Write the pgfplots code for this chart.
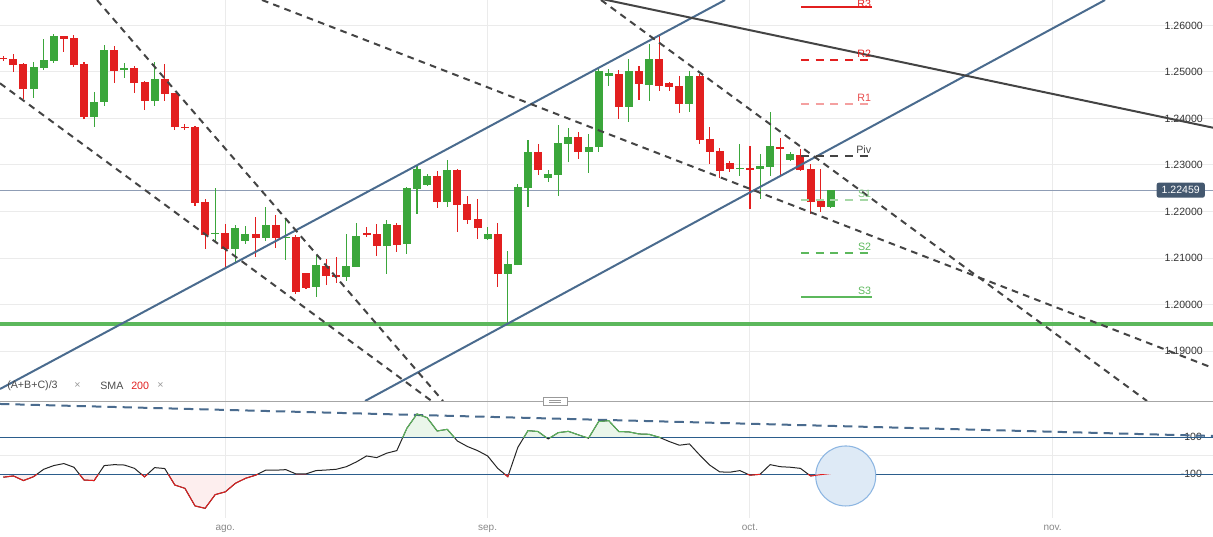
\documentclass[border=0pt]{standalone}
\usepackage{fontspec}
\setmainfont{Liberation Sans}
\usepackage{pgfplots}
\usepackage{pgfplotstable}
\pgfplotsset{compat=1.18}

\definecolor{cRed}{HTML}{E21F1F}
\definecolor{cGreen}{HTML}{3BA63B}
\definecolor{cBlue}{HTML}{4A6B8E}
\definecolor{cDark}{HTML}{444444}
\definecolor{cGrid}{HTML}{EBEBEB}
\definecolor{cPrice}{HTML}{8F9DB5}
\definecolor{cBox}{HTML}{44586F}
\definecolor{cLevel}{HTML}{5CB85C}
\definecolor{cLine}{HTML}{2B5D8C}
\definecolor{cR1}{HTML}{F4A0A0}
\definecolor{cS1}{HTML}{A6D8A6}
\definecolor{cGreenFill}{HTML}{EAF6EA}
\definecolor{cRedFill}{HTML}{FDEEEE}
\definecolor{cCircle}{HTML}{DEEAF6}
\definecolor{cCircleB}{HTML}{8DB6E2}
\definecolor{cTxt}{HTML}{333333}
\definecolor{cAxTxt}{HTML}{888888}

% candles: k open high low close
\pgfplotstableread{
k o h l c
0 1.25308 1.25344 1.25243 1.25272
1 1.25279 1.25387 1.25007 1.25150
2 1.25172 1.25186 1.24412 1.24634
6 1.25774 1.25774 1.25437 1.25717
7 1.25731 1.25788 1.25114 1.25150
8 1.25172 1.25215 1.23982 1.24032
11 1.25473 1.25559 1.24770 1.25021
13 1.25086 1.25129 1.24555 1.24763
14 1.24785 1.24806 1.24190 1.24383
16 1.24849 1.25172 1.24383 1.24527
17 1.24548 1.24548 1.23760 1.23817
18 1.23824 1.23874 1.23753 1.23796
19 1.23817 1.23839 1.22125 1.22190
20 1.22204 1.22262 1.21201 1.21495
22 1.21538 1.21731 1.20814 1.21201
25 1.21516 1.21882 1.21029 1.21430
27 1.21710 1.21925 1.21222 1.21437
29 1.21452 1.21495 1.20233 1.20276
30 1.20677 1.20677 1.20341 1.20355
32 1.20828 1.20979 1.20419 1.20620
33 1.20634 1.21022 1.20470 1.20599
36 1.21538 1.21667 1.21452 1.21495
37 1.21516 1.21731 1.21050 1.21265
39 1.21710 1.21760 1.21136 1.21287
43 1.22763 1.22871 1.22082 1.22211
45 1.22892 1.22914 1.21566 1.22147
46 1.22161 1.22333 1.21738 1.21824
47 1.21839 1.22269 1.21416 1.21652
49 1.21516 1.21753 1.20384 1.20663
53 1.23279 1.23451 1.22792 1.22900
57 1.23602 1.23710 1.23136 1.23287
61 1.24957 1.25043 1.23996 1.24254
63 1.25021 1.25129 1.24405 1.24749
65 1.25279 1.25795 1.24598 1.24706
66 1.24763 1.24785 1.24598 1.24684
67 1.24699 1.24914 1.24125 1.24319
69 1.24914 1.24957 1.23459 1.23545
70 1.23559 1.23817 1.23029 1.23287
71 1.23301 1.23365 1.22728 1.22878
72 1.23043 1.23086 1.22857 1.22921
74 1.22935 1.23408 1.22061 1.22900
77 1.23387 1.23580 1.22792 1.23351
79 1.23215 1.23344 1.22878 1.22892
80 1.22914 1.23021 1.21953 1.22211
81 1.22233 1.22914 1.21996 1.22104
}\downbars

\pgfplotstableread{
k o h l c
3 1.24634 1.25215 1.24448 1.25107
4 1.25086 1.25709 1.25043 1.25258
5 1.25236 1.25817 1.25200 1.25774
9 1.24032 1.24570 1.23824 1.24355
10 1.24355 1.25580 1.24269 1.25473
12 1.25050 1.25193 1.24878 1.25086
15 1.24383 1.25215 1.24276 1.24849
21 1.21516 1.22505 1.21351 1.21545
23 1.21201 1.21710 1.20921 1.21645
24 1.21373 1.21688 1.21308 1.21516
26 1.21437 1.22097 1.21373 1.21710
28 1.21430 1.21839 1.20964 1.21459
31 1.20384 1.21065 1.20169 1.20849
34 1.20599 1.21516 1.20513 1.20828
35 1.20814 1.21753 1.20814 1.21473
38 1.21265 1.21817 1.20663 1.21731
40 1.21308 1.22527 1.21093 1.22505
41 1.22491 1.22986 1.21953 1.22914
42 1.22577 1.22814 1.22555 1.22763
44 1.22211 1.23107 1.22104 1.22892
48 1.21409 1.21667 1.21394 1.21516
50 1.20663 1.21151 1.19595 1.20871
51 1.20849 1.22591 1.20849 1.22527
52 1.22512 1.23537 1.22104 1.23279
54 1.22728 1.22892 1.22634 1.22806
55 1.22792 1.23860 1.22340 1.23473
56 1.23459 1.23796 1.23064 1.23602
58 1.23287 1.23667 1.22835 1.23387
59 1.23394 1.25086 1.23287 1.25021
60 1.24921 1.25064 1.24706 1.24978
62 1.24254 1.25279 1.23932 1.25021
64 1.24727 1.25602 1.24383 1.25279
68 1.24319 1.25021 1.24147 1.24914
73 1.22914 1.23451 1.22771 1.22935
75 1.22921 1.23236 1.22276 1.22978
76 1.22964 1.24140 1.22771 1.23408
78 1.23115 1.23279 1.23093 1.23236
82 1.22104 1.22462 1.22082 1.22459
}\upbars

% oscillator, one value per candle
\pgfplotstableread{
k v
0 -116
1 -109
2 -134
3 -113
4 -73
5 -53
6 -42
7 -62
8 -131
9 -134
10 -53
11 -48
12 -50
13 -68
14 -114
15 -64
16 -69
17 -158
18 -176
19 -271
20 -284
21 -210
22 -195
23 -149
24 -122
25 -105
26 -78
27 -78
28 -75
29 -98
30 -98
31 -80
32 -77
33 -73
34 -59
35 -33
36 -1
37 -10
38 14
39 28
40 149
41 226
42 206
43 134
44 143
45 80
46 50
47 28
48 -1
49 -68
50 -113
51 46
52 136
53 131
54 91
55 125
56 132
57 113
58 95
59 185
60 190
61 131
62 129
63 118
64 116
65 100
66 77
67 57
68 64
69 5
70 -50
71 -87
72 -89
73 -80
74 -105
75 -100
76 -48
77 -59
78 -62
79 -68
80 -109
81 -102
82 -96
}\osc

\pgfplotsset{
  wick/.style={draw=none, mark=none, error bars/.cd, y dir=plus, y explicit,
    error mark=none, error bar style={draw=#1, line width=0.8pt}},
  body/.style={draw=none, mark=none, error bars/.cd, y dir=plus, y explicit,
    error mark=none, error bar style={draw=#1, line width=6pt}},
  trend/.style={cDark, line width=1.5pt, dash pattern=on 5pt off 4pt},
  lvl/.style={line width=1.5pt, #1},
  % overlay axes that only show the part of the oscillator beyond +-100
  band/.style={scale only axis, width=909.75pt, xmin=-0.327, xmax=119.89, hide axis},
  bandup/.style={band, at={(0pt,-300.75pt)}, anchor=north west,
    height=27.195pt, ymin=100, ymax=296},
  banddown/.style={band, at={(0pt,-388.25pt)}, anchor=south west,
    height=32.55pt, ymin=-334.6, ymax=-100},
}

\begin{document}
\begin{tikzpicture}
\useasboundingbox (0,0) rectangle (909.75pt,-402pt);

\begin{axis}[
  at={(0pt,0pt)}, anchor=north west,
  scale only axis, width=909.75pt, height=300.75pt,
  xmin=-0.327, xmax=119.89, ymin=1.17925, ymax=1.26548,
  axis line style={draw=none}, tick style={draw=none},
  xtick={22,48,74,104}, xticklabels={,,,},
  ytick={1.19,1.20,1.21,1.22,1.23,1.24,1.25,1.26},
  grid=major, major grid style={draw=cGrid, line width=0.75pt},
  yticklabel pos=right,
  yticklabel style={anchor=east, xshift=-7.5pt, inner sep=0pt,
    font=\fontsize{7.9}{9}\selectfont, text=cTxt,
    /pgf/number format/fixed, /pgf/number format/fixed zerofill,
    /pgf/number format/precision=5, /pgf/number format/assume math mode=true},
]
\addplot[cPrice, line width=0.75pt] coordinates {(-0.327,1.22459) (119.89,1.22459)};
\addplot[cLevel, line width=2.4pt] coordinates {(-0.327,1.1958) (119.89,1.1958)};

% candles
\addplot[wick=cRed] table[x=k, y=l, y error expr=\thisrow{h}-\thisrow{l}] {\downbars};
\addplot[body=cRed] table[x=k, y=c, y error expr=\thisrow{o}-\thisrow{c}] {\downbars};
\addplot[wick=cGreen] table[x=k, y=l, y error expr=\thisrow{h}-\thisrow{l}] {\upbars};
\addplot[body=cGreen] table[x=k, y=o, y error expr=\thisrow{c}-\thisrow{o}] {\upbars};

% trend lines and channel
\addplot[cBlue, line width=1.5pt] coordinates {(-0.327,1.18183) (71.53,1.26548)};
\addplot[cBlue, line width=1.5pt] coordinates {(35.85,1.17925) (109.19,1.26548)};
\addplot[cDark, line width=1.5pt] coordinates {(59.14,1.26578) (119.89,1.23802)};
\addplot[trend] coordinates {(9.29,1.26548) (43.58,1.17925)};
\addplot[trend] coordinates {(-0.327,1.24757) (42.45,1.17925)};
\addplot[trend] coordinates {(25.64,1.26548) (119.89,1.18634)};
\addplot[trend] coordinates {(59.24,1.26548) (113.35,1.17925)};

% pivot levels
\addplot[lvl=cRed] coordinates {(79.06,1.26405) (86.1,1.26405)};
\addplot[lvl=cRed, dash pattern=on 6pt off 5pt] coordinates {(79.06,1.25265) (86.1,1.25265)};
\addplot[lvl=cR1, dash pattern=on 6pt off 5pt] coordinates {(79.06,1.24312) (86.1,1.24312)};
\addplot[cDark, line width=0.9pt, dash pattern=on 6pt off 5pt] coordinates {(79.06,1.23193) (86.1,1.23193)};
\addplot[lvl=cS1, dash pattern=on 6pt off 5pt] coordinates {(79.06,1.22240) (86.1,1.22240)};
\addplot[lvl=cLevel, dash pattern=on 6pt off 5pt] coordinates {(79.06,1.21107) (86.1,1.21107)};
\addplot[lvl=cLevel] coordinates {(79.06,1.20161) (86.1,1.20161)};

\begin{scope}[every node/.style={anchor=base east, inner sep=0.5pt, yshift=1.8pt,
    font=\fontsize{8}{9}\selectfont}]
\node[text=cRed, yshift=-2.6pt] at (axis cs:86.1,1.26405) {R3};
\node[text=cRed] at (axis cs:86.1,1.25265) {R2};
\node[text=cRed!80] at (axis cs:86.1,1.24312) {R1};
\node[text=cDark] at (axis cs:86.1,1.23193) {Piv};
\node[text=cLevel!80] at (axis cs:86.1,1.22240) {S1};
\node[text=cLevel] at (axis cs:86.1,1.21107) {S2};
\node[text=cLevel] at (axis cs:86.1,1.20161) {S3};
\end{scope}

\node[anchor=east, xshift=-6pt, fill=cBox, text=white, rounded corners=1.5pt,
  minimum width=36pt, minimum height=11.25pt, inner sep=0pt,
  font=\fontsize{7.9}{9}\selectfont] at (axis cs:119.89,1.22459) {1.22459};
\end{axis}

% light fills beyond +-100 (behind everything in the lower panel)
\begin{axis}[bandup]
\addplot[fill=cGreenFill, draw=none] table[x=k, y=v] {\osc} \closedcycle;
\end{axis}
\begin{axis}[banddown]
\addplot[fill=cRedFill, draw=none] table[x=k, y=v] {\osc} \closedcycle;
\end{axis}

% oscillator panel
\begin{axis}[
  at={(0pt,-300.75pt)}, anchor=north west,
  scale only axis, width=909.75pt, height=87.5pt,
  xmin=-0.327, xmax=119.89, ymin=-334.6, ymax=296,
  axis line style={draw=none}, tick style={draw=none},
  xtick={22,48,74,104}, xticklabels={ago.,sep.,oct.,nov.},
  xmajorgrids, major grid style={draw=cGrid, line width=0.75pt},
  xticklabel style={anchor=base, yshift=-9.5pt, text=cAxTxt,
    font=\fontsize{7.5}{9}\selectfont},
  ytick={-100,100}, yticklabels={{-100},{100}},
  yticklabel pos=right,
  yticklabel style={anchor=east, xshift=-7.5pt, inner sep=0.6pt, fill=white,
    font=\fontsize{7.9}{9}\selectfont, text=cTxt},
]
\addplot[cGrid, line width=0.75pt] coordinates {(-0.327,0) (119.89,0)};
\addplot[only marks, mark=*, mark size=22.5pt,
  mark options={fill=cCircle, draw=cCircleB, line width=0.8pt}] coordinates {(83.49,-109.2)};
\addplot[cLine, line width=0.9pt] coordinates {(-0.327,100) (119.89,100)};
\addplot[cLine, line width=0.9pt] coordinates {(-0.327,-100) (119.89,-100)};
\addplot[cBlue, line width=1.5pt, dash pattern=on 7pt off 4.5pt] coordinates {(-0.327,280) (119.89,107)};
\addplot[black!85, line width=0.75pt] table[x=k, y=v] {\osc};
\end{axis}

% coloured parts of the oscillator line
\begin{axis}[bandup]
\addplot[cLevel, line width=0.75pt] table[x=k, y=v] {\osc};
\end{axis}
\begin{axis}[banddown]
\addplot[cRed, line width=0.75pt] table[x=k, y=v] {\osc};
\end{axis}

% panel separator, drag handle and indicator caption
\draw[black!35, line width=0.75pt] (0pt,-300.75pt) -- (909.75pt,-300.75pt);
\draw[black!40, fill=white, line width=0.6pt] (407.25pt,-297.75pt) rectangle (425.25pt,-303.75pt);
\draw[black!40, line width=0.5pt] (411.75pt,-300pt) -- (420.75pt,-300pt)
  (411.75pt,-301.5pt) -- (420.75pt,-301.5pt);
\begin{scope}[every node/.style={anchor=west, inner sep=0pt, font=\fontsize{8}{9}\selectfont}]
\node[text=black!70] at (5.25pt,-289.5pt) {(A+B+C)/3};
\node[text=black!40] at (55.5pt,-289.5pt) {×};
\node[text=black!70] at (75pt,-289.5pt) {SMA};
\node[text=cRed] at (98.25pt,-289.5pt) {200};
\node[text=black!40] at (117.75pt,-289.5pt) {×};
\end{scope}
\end{tikzpicture}
\end{document}
